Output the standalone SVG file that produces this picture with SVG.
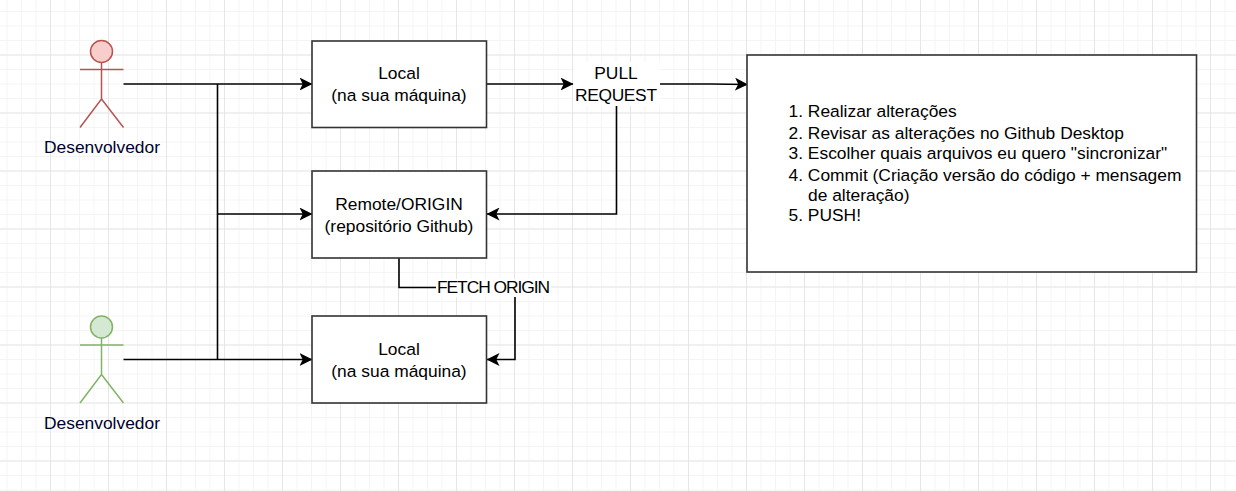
<svg xmlns="http://www.w3.org/2000/svg" width="1236" height="491" viewBox="0 0 1236 491">
<defs>
<pattern id="gridMinor" width="14.5" height="14.5" patternUnits="userSpaceOnUse" x="50" y="54.500"><path d="M0.500 0V14.500M0 0.500H14.500" fill="none" stroke="#f4f4f4" stroke-width="1"/></pattern>
<pattern id="gridMajor" width="58" height="58" patternUnits="userSpaceOnUse" x="50" y="54.500"><path d="M0.500 0V58M0 0.500H58" fill="none" stroke="#e6e6e6" stroke-width="1"/></pattern>
<marker id="arrow" viewBox="0 0 13 13" refX="12.500" refY="6.500" markerWidth="13" markerHeight="13" markerUnits="userSpaceOnUse" orient="auto"><path d="M0 0L13 6.500L0 13L3.200 6.500Z" fill="#000"/></marker>
</defs>
<style>
text{font-family:"Liberation Sans",Arial,sans-serif;font-size:17.4px;fill:#000}
.c{text-anchor:middle}
.n{fill:#00002e}
.box{fill:#fff;stroke:#333;stroke-width:1.6}
.edge{fill:none;stroke:#000;stroke-width:1.6}
.red{fill:none;stroke:#b85450;stroke-width:1.5}
.green{fill:none;stroke:#82b366;stroke-width:1.5}
.bg{fill:#fff}
</style>
<rect width="1236" height="491" fill="#fff"/>
<rect width="1236" height="491" fill="url(#gridMinor)"/>
<rect width="1236" height="491" fill="url(#gridMajor)"/>
<g id="connectors">
<path class="edge" d="M123.500 84H312" marker-end="url(#arrow)"/>
<path class="edge" d="M217.500 84V359.500"/>
<path class="edge" d="M217.500 214H312" marker-end="url(#arrow)"/>
<path class="edge" d="M123.500 359.500H312" marker-end="url(#arrow)"/>
<path class="edge" d="M486.500 84H573" marker-end="url(#arrow)"/>
<path class="edge" d="M660 84H710Q730 84 747.500 84.500" marker-end="url(#arrow)"/>
<path class="edge" d="M616.500 106V214H487" marker-end="url(#arrow)"/>
<path class="edge" d="M399 258V287.500H436"/>
<path class="edge" d="M515 297V359.500H487" marker-end="url(#arrow)"/>
</g>
<g id="actor-red">
<ellipse cx="101.500" cy="51.500" rx="11" ry="11" fill="#f8cecc" stroke="#b85450" stroke-width="1.500"/>
<path class="red" d="M101.500 62.500V99M80 69.500H123.500M80 127.500L101.500 99L123.500 127.500"/>
<text class="c n" x="102" y="153">Desenvolvedor</text>
</g>
<g id="actor-green">
<ellipse cx="101.500" cy="327" rx="11" ry="11" fill="#d5e8d4" stroke="#82b366" stroke-width="1.500"/>
<path class="green" d="M101.500 338V374.500M80 345H123.500M80 403L101.500 374.500L123.500 403"/>
<text class="c n" x="102" y="428.500">Desenvolvedor</text>
</g>
<g id="local-top">
<rect class="box" x="312" y="41" width="174.500" height="86.500"/>
<text class="c" x="399" y="79">Local</text>
<text class="c" x="399" y="100.500">(na sua máquina)</text>
</g>
<g id="remote-origin">
<rect class="box" x="312" y="171" width="174.500" height="87"/>
<text class="c" x="399" y="210">Remote/ORIGIN</text>
<text class="c" x="399" y="231.500">(repositório Github)</text>
</g>
<g id="local-bottom">
<rect class="box" x="312" y="316" width="174.500" height="87"/>
<text class="c" x="399" y="355">Local</text>
<text class="c" x="399" y="376.500">(na sua máquina)</text>
</g>
<g id="pull-request">
<rect class="bg" x="574" y="62" width="86" height="44"/>
<text class="c" x="616" y="79">PULL</text>
<text class="c" x="616" y="101" textLength="82">REQUEST</text>
</g>
<g id="fetch-origin">
<rect class="bg" x="436" y="279" width="115" height="18"/>
<text class="c" x="493.500" y="292.500" textLength="113">FETCH ORIGIN</text>
</g>
<g id="steps">
<rect class="box" x="747" y="55" width="449.500" height="217"/>
<text x="788.500" y="117">1. Realizar alterações</text>
<text x="788.500" y="139">2. Revisar as alterações no Github Desktop</text>
<text x="788.500" y="159">3. Escolher quais arquivos eu quero "sincronizar"</text>
<text x="788.500" y="181">4. Commit (Criação versão do código + mensagem</text>
<text x="808" y="201">de alteração)</text>
<text x="788.500" y="221">5. PUSH!</text>
</g>
</svg>
